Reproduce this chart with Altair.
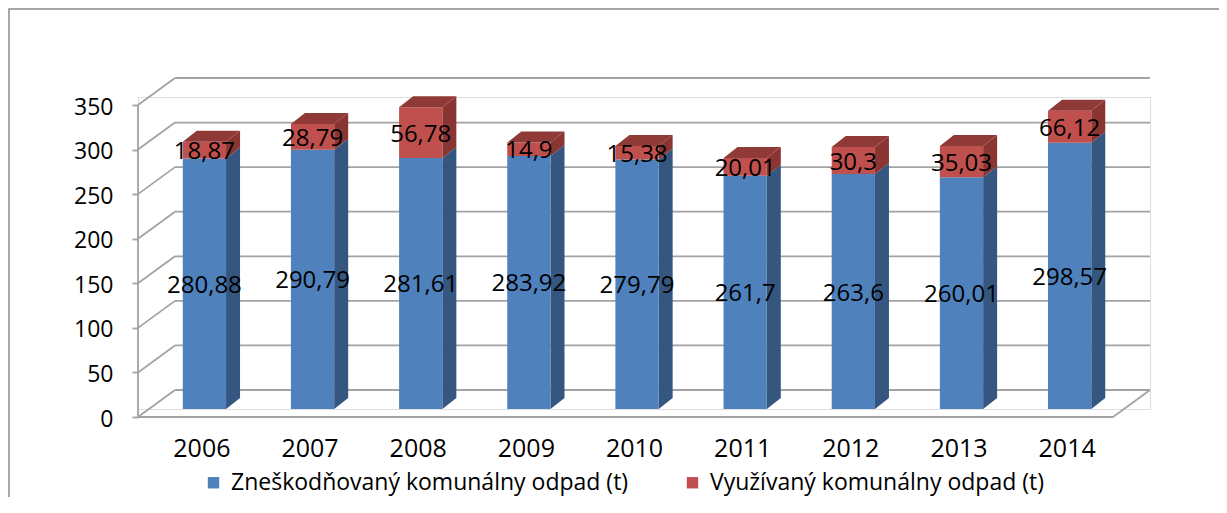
import json
import altair as alt
import pandas as pd

# ---------------- data ----------------
years = ['2006', '2007', '2008', '2009', '2010', '2011', '2012', '2013', '2014']
zneskodnovany = [280.88, 290.79, 281.61, 283.92, 279.79, 261.7, 263.6, 260.01, 298.57]
# heights of the red segments as drawn in the picture
vyuzivany = [18.87, 28.79, 56.78, 14.9, 15.38, 20.01, 30.3, 35.03, 35.9]
# data labels as printed in the picture
zneskodnovany_labels = ['280,88', '290,79', '281,61', '283,92', '279,79', '261,7', '263,6', '260,01', '298,57']
vyuzivany_labels = ['18,87', '28,79', '56,78', '14,9', '15,38', '20,01', '30,3', '35,03', '66,12']
series_names = ['Zneškodňovaný komunálny odpad (t)', 'Využívaný komunálny odpad (t)']
y_ticks = [0, 50, 100, 150, 200, 250, 300, 350]

# ---------------- style ----------------
FONT = 'Open Sans'
BLUE, BLUE_SIDE = '#4F81BD', '#34567F'
RED, RED_SIDE, RED_TOP = '#C0504D', '#8A3532', '#8F3A37'
GRID = '#a3a3a3'
W, H = 1012, 312
X_DOMAIN = [-0.614, 8.743]
STEP_PX = W / (X_DOMAIN[1] - X_DOMAIN[0])
BAR_HALF = 0.2
DEPTH_X = 14 / STEP_PX           # bar depth in category units
DEPTH_Y = 11 * 350 / H           # bar depth in data units
WALL_DX = 37                     # px, depth of the back wall
FRONT_DY, BACK_DY = 8, -19       # px offsets of front axis / back wall

# ---------------- derived tables ----------------
front_rows, side_rows, top_rows = [], [], []
for i, (a, b) in enumerate(zip(zneskodnovany, vyuzivany)):
    segs = [(series_names[0], 0.0, a, zneskodnovany_labels[i]),
            (series_names[1], a, a + b, vyuzivany_labels[i])]
    for s, lo, hi, lab in segs:
        front_rows.append(dict(xc=i, x0=i - BAR_HALF, x1=i + BAR_HALF, y0=lo, y1=hi,
                               mid=(lo + hi) / 2, series=s, label=lab))
        xr = i + BAR_HALF
        side_rows.append(dict(face=f'{i}-{s}', series=s, x=xr, lo=lo, hi=hi))
        side_rows.append(dict(face=f'{i}-{s}', series=s, x=xr + DEPTH_X,
                              lo=lo + DEPTH_Y, hi=hi + DEPTH_Y))
    t = a + b
    xl, xr = i - BAR_HALF, i + BAR_HALF
    top_rows += [
        dict(face=i, x=xl, lo=t, hi=t),
        dict(face=i, x=xl + DEPTH_X, lo=t, hi=t + DEPTH_Y),
        dict(face=i, x=xr, lo=t, hi=t + DEPTH_Y),
        dict(face=i, x=xr + DEPTH_X, lo=t + DEPTH_Y, hi=t + DEPTH_Y),
    ]
front = pd.DataFrame(front_rows)
side = pd.DataFrame(side_rows)
top = pd.DataFrame(top_rows)
grid = pd.DataFrame({'v': y_ticks})
axis_df = pd.DataFrame({'lo': [y_ticks[0]], 'hi': [y_ticks[-1]]})

# ---------------- scales / axes ----------------
xscale = alt.Scale(domain=X_DOMAIN, nice=False, zero=False)
yscale = alt.Scale(domain=[0, 350], nice=False, zero=True)
label_expr = json.dumps(years) + '[datum.value]'
xaxis = alt.Axis(values=list(range(len(years))), labelExpr=label_expr, title=None,
                 domain=False, ticks=False, tickSize=0, grid=False,
                 labelFlush=False, labelOverlap=False, labelFontSize=25,
                 labelFont=FONT, labelColor='black', labelPadding=27, labelOffset=-3)
yaxis = alt.Axis(values=y_ticks, title=None, domain=False, grid=False,
                 tickSize=6, tickColor=GRID, tickWidth=1.8, tickOffset=FRONT_DY,
                 labelOffset=2, labelPadding=19, labelFontSize=23, labelFont=FONT,
                 labelColor='black')


def X(f):
    return alt.X(f'{f}:Q', scale=xscale, axis=xaxis)


def Y(f):
    return alt.Y(f'{f}:Q', scale=yscale, axis=yaxis, stack=None)


# ---------------- layers ----------------
frame = alt.Chart(axis_df).mark_rect(fillOpacity=0, stroke='#8a8a8a', strokeWidth=1.5).encode(
    x=alt.value(-129), x2=alt.value(1200), y=alt.value(-88), y2=alt.value(600))

back_grid = alt.Chart(grid).mark_rule(color=GRID, strokeWidth=1.8, yOffset=BACK_DY).encode(
    x=alt.value(WALL_DX), x2=alt.value(W), y=Y('v'))

diagonals = alt.Chart(grid).mark_rule(color=GRID, strokeWidth=1.8, yOffset=FRONT_DY,
                                      y2Offset=BACK_DY).encode(
    x=alt.value(0), x2=alt.value(WALL_DX), y=Y('v'), y2='v')

axis_line = alt.Chart(axis_df).mark_rule(color=GRID, strokeWidth=1.8, yOffset=FRONT_DY,
                                         y2Offset=FRONT_DY).encode(
    x=alt.value(0), y=Y('lo'), y2='hi')

floor_front = alt.Chart(grid).transform_filter('datum.v == 0').mark_rule(
    color=GRID, strokeWidth=1.8, yOffset=FRONT_DY).encode(
    x=alt.value(0), x2=alt.value(W - WALL_DX), y=Y('v'))

floor_right = alt.Chart(grid).transform_filter('datum.v == 0').mark_rule(
    color=GRID, strokeWidth=1.8, yOffset=FRONT_DY, y2Offset=BACK_DY).encode(
    x=alt.value(W - WALL_DX), x2=alt.value(W), y=Y('v'), y2='v')

side_blue = alt.Chart(side).transform_filter(
    alt.datum.series == series_names[0]).mark_area(orient='vertical', color=BLUE_SIDE).encode(
    x=X('x'), y=Y('lo'), y2='hi', detail='face:N')
side_red = alt.Chart(side).transform_filter(
    alt.datum.series == series_names[1]).mark_area(orient='vertical', color=RED_SIDE).encode(
    x=X('x'), y=Y('lo'), y2='hi', detail='face:N')
top_red = alt.Chart(top).mark_area(orient='vertical', color=RED_TOP).encode(
    x=X('x'), y=Y('lo'), y2='hi', detail='face:N')

fronts = alt.Chart(front).mark_rect().encode(
    x=X('x0'), x2='x1', y=Y('y0'), y2='y1',
    color=alt.Color('series:N', scale=alt.Scale(domain=series_names, range=[BLUE, RED]),
                    legend=alt.Legend(orient='none', legendX=64, legendY=374,
                                      direction='horizontal', title=None,
                                      symbolType='square', symbolSize=130,
                                      symbolStrokeWidth=0, labelFontSize=23,
                                      labelFont=FONT, labelColor='black',
                                      labelOffset=6, columnPadding=52, padding=0,
                                      labelLimit=0)))

labels = alt.Chart(front).mark_text(font=FONT, fontSize=24, baseline='middle', dy=2,
                                    color='black').encode(
    x=X('xc'), y=Y('mid'), text='label:N')

chart = alt.layer(
    frame, back_grid, diagonals, axis_line, floor_front, floor_right,
    side_blue, side_red, fronts, top_red, labels
).properties(
    width=W, height=H,
    autosize=alt.AutoSizeParams(type='none'),
    padding={'left': 130, 'top': 89, 'right': 69, 'bottom': 88},
).configure_view(strokeWidth=0).configure(background='white')

chart.save('out.html', embed_options={'renderer': 'svg', 'actions': False})
